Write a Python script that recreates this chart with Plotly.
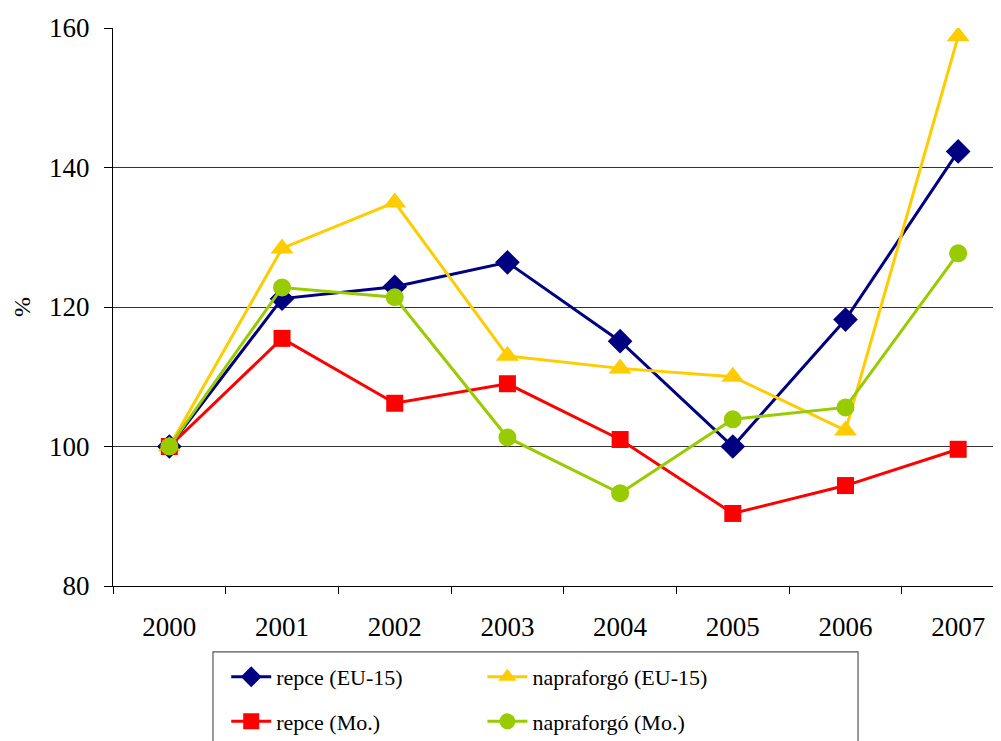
import plotly.graph_objects as go

years = ["2000", "2001", "2002", "2003", "2004", "2005", "2006", "2007"]
repce_eu = [100, 121.2, 122.9, 126.4, 115.1, 100.0, 118.2, 142.3]
napra_eu = [100, 128.4, 135.0, 113.0, 111.2, 110.0, 102.3, 158.8]
repce_mo = [100, 115.5, 106.2, 109.0, 101.0, 90.4, 94.4, 99.6]
napra_mo = [100, 122.8, 121.4, 101.3, 93.3, 103.9, 105.6, 127.7]
y_ticks = [80, 100, 120, 140, 160]

FONT = "Liberation Serif, Times New Roman, serif"

fig = go.Figure()
fig.add_trace(go.Scatter(x=years, y=repce_eu, name="repce (EU-15)", mode="lines+markers",
                         line=dict(color="#000080", width=3),
                         marker=dict(symbol="diamond", size=19, color="#000080"),
                         legend="legend", legendgroup="a"))
fig.add_trace(go.Scatter(x=years, y=napra_eu, name="napraforgó (EU-15)", mode="lines+markers",
                         line=dict(color="#FFCC00", width=3),
                         marker=dict(symbol="triangle-up", size=20, color="#FFCC00"),
                         legend="legend2", legendgroup="c"))
fig.add_trace(go.Scatter(x=years, y=repce_mo, name="repce (Mo.)", mode="lines+markers",
                         line=dict(color="#FF0000", width=3),
                         marker=dict(symbol="square", size=17, color="#FF0000"),
                         legend="legend", legendgroup="b"))
fig.add_trace(go.Scatter(x=years, y=napra_mo, name="napraforgó (Mo.)", mode="lines+markers",
                         line=dict(color="#99CC00", width=3),
                         marker=dict(symbol="circle", size=18, color="#99CC00"),
                         legend="legend2", legendgroup="d"))

leg_common = dict(font=dict(family=FONT, size=22, color="black"), bgcolor="rgba(0,0,0,0)",
                  borderwidth=0, yanchor="top", xanchor="left", tracegroupgap=13,
                  traceorder="grouped", itemwidth=40)

fig.update_layout(
    width=993, height=733,
    margin=dict(l=105, r=0, t=20, b=155, autoexpand=False),
    paper_bgcolor="white", plot_bgcolor="white",
    font=dict(family=FONT, size=27, color="black"),
    showlegend=True,
    legend=dict(x=0.1275, y=-0.1254, **leg_common),
    legend2=dict(x=0.416, y=-0.1254, **leg_common),
    xaxis=dict(type="category", range=[-0.5, 7.38], showgrid=False,
               showline=True, linecolor="black", linewidth=1,
               ticks="outside", tickson="boundaries", ticklen=7, tickcolor="black",
               tickfont=dict(family=FONT, size=27, color="black"),
               ticklabelstandoff=17, zeroline=False),
    yaxis=dict(range=[80, 160], tickvals=y_ticks, showgrid=True, gridcolor="#333333",
               gridwidth=1, showline=True, linecolor="black", linewidth=1,
               ticks="outside", ticklen=8, tickcolor="black",
               tickfont=dict(family=FONT, size=27, color="black"),
               ticklabelstandoff=9, zeroline=False),
    shapes=[dict(type="rect", xref="paper", yref="paper", x0=0.1126, x1=0.839,
                 y0=-0.118, y1=-0.4, line=dict(color="#555555", width=1.2),
                 fillcolor="rgba(0,0,0,0)", layer="above")],
    annotations=[dict(text="%", xref="paper", yref="paper", x=-0.1025, y=0.5,
                      xanchor="center", yanchor="middle",
                      textangle=-90, showarrow=False,
                      font=dict(family=FONT, size=24, color="black"))],
)

fig.write_html("out.html")
